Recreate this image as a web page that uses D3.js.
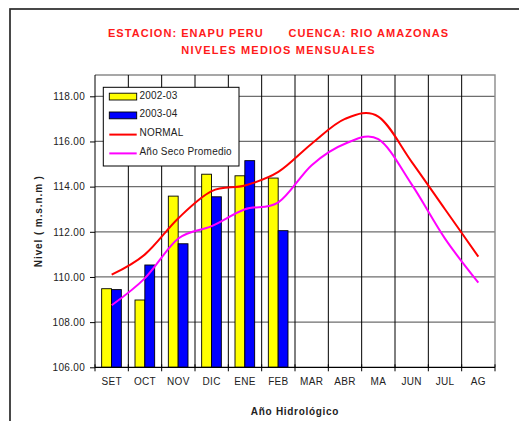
<!DOCTYPE html>
<html>
<head>
<meta charset="utf-8">
<script src="https://cdn.jsdelivr.net/npm/d3@7"></script>
<style>
  html, body { margin: 0; padding: 0; background: #fff; }
  svg { display: block; font-family: "Liberation Sans", Arial, sans-serif; }
</style>
</head>
<body>
<svg id="chart" width="519" height="421"></svg>
<script>
// Hydrological-year months (September to August)
const months = ["SET", "OCT", "NOV", "DIC", "ENE", "FEB", "MAR", "ABR", "MA", "JUN", "JUL", "AG"];

// Monthly mean levels (m.s.n.m) for the observed seasons
const levels2002_03 = [109.48, 108.98, 113.58, 114.55, 114.48, 114.38];
const levels2003_04 = [109.44, 110.53, 111.47, 113.55, 115.15, 112.05];

// Reference curves
const normalLevels = [110.1, 111.0, 112.6, 113.8, 114.05, 114.65, 115.9, 117.0, 117.1, 115.1, 113.0, 110.9];
const drySeasonLevels = [108.75, 109.95, 111.7, 112.25, 113.0, 113.3, 114.95, 115.9, 116.1, 114.1, 111.7, 109.75];

const yTicks = [106, 108, 110, 112, 114, 116, 118];
const barSeries = ["2002-03", "2003-04"];
const legendLabels = ["2002-03", "2003-04", "NORMAL", "Año Seco Promedio"];

const colors = {
  "2002-03": "#ffff00",
  "2003-04": "#0000ff",
  "NORMAL": "#ff0000",
  "Año Seco Promedio": "#ff00ff"
};

const svg = d3.select("#chart");

// Outer chart frame
svg.append("rect")
  .attr("x", 10).attr("y", 9)
  .attr("width", 530).attr("height", 440)
  .attr("fill", "#fff")
  .attr("stroke", "#2a2a2a")
  .attr("stroke-width", 1.7);

// Plot area
const plot = { left: 95, right: 495, top: 75, bottom: 367.3 };

const x = d3.scaleBand().domain(months).range([plot.left, plot.right]).padding(0);
const xSub = d3.scaleBand().domain(barSeries)
  .range([x.bandwidth() * 0.2, x.bandwidth() * 0.79]).padding(0);
const y = d3.scaleLinear().domain([106, 118]).range([plot.bottom, 96.3]);

// Horizontal gridlines
svg.append("g").selectAll("line")
  .data(yTicks.filter(v => v > 106))
  .join("line")
  .attr("x1", plot.left).attr("x2", plot.right)
  .attr("y1", d => y(d)).attr("y2", d => y(d))
  .attr("stroke", "#6e6e6e").attr("stroke-width", 1.2);

// Top and right border of plot area
svg.append("path")
  .attr("d", `M${plot.left},${plot.top}H${plot.right}V${plot.bottom}`)
  .attr("fill", "none")
  .attr("stroke", "#8a8a8a").attr("stroke-width", 1.4);

// Vertical gridlines at category boundaries
svg.append("g").selectAll("line")
  .data(months.slice(1))
  .join("line")
  .attr("x1", d => x(d)).attr("x2", d => x(d))
  .attr("y1", plot.top).attr("y2", plot.bottom)
  .attr("stroke", "#000").attr("stroke-width", 1);

// Bars
const barData = [];
levels2002_03.forEach((v, i) => barData.push({ m: months[i], s: "2002-03", v }));
levels2003_04.forEach((v, i) => barData.push({ m: months[i], s: "2003-04", v }));

svg.append("g").selectAll("rect")
  .data(barData)
  .join("rect")
  .attr("x", d => x(d.m) + xSub(d.s))
  .attr("width", xSub.bandwidth())
  .attr("y", d => y(d.v))
  .attr("height", d => y(106) - y(d.v))
  .attr("fill", d => colors[d.s])
  .attr("stroke", "#000").attr("stroke-width", 0.9);

// Smoothed reference lines
const line = d3.line()
  .x((d, i) => x(months[i]) + x.bandwidth() / 2)
  .y(d => y(d))
  .curve(d3.curveCardinal.tension(0));

svg.append("path").datum(drySeasonLevels)
  .attr("d", line).attr("fill", "none")
  .attr("stroke", colors["Año Seco Promedio"]).attr("stroke-width", 2);

svg.append("path").datum(normalLevels)
  .attr("d", line).attr("fill", "none")
  .attr("stroke", colors["NORMAL"]).attr("stroke-width", 2);

// Y axis
const yAxis = svg.append("g")
  .attr("transform", `translate(${plot.left},0)`)
  .call(d3.axisLeft(y).tickValues(yTicks).tickFormat(d3.format(".2f")).tickSize(5).tickPadding(5));
yAxis.select(".domain").attr("stroke", "#000").attr("d", `M0,${plot.bottom}V${plot.top}`);
yAxis.selectAll(".tick line").attr("stroke", "#000");
yAxis.selectAll("text")
  .attr("font-size", 10).attr("fill", "#222").attr("font-family", "Liberation Sans, Arial, sans-serif")
  .style("letter-spacing", "0.3px");

// X axis: ticks on category boundaries, labels centered
const xAxis = svg.append("g").attr("transform", `translate(0,${plot.bottom})`);
xAxis.append("line")
  .attr("x1", plot.left).attr("x2", plot.right)
  .attr("y1", 0).attr("y2", 0)
  .attr("stroke", "#000").attr("stroke-width", 1.2);
xAxis.selectAll("line.tk")
  .data(months.concat(["end"]))
  .join("line").attr("class", "tk")
  .attr("x1", d => d === "end" ? plot.right : x(d))
  .attr("x2", d => d === "end" ? plot.right : x(d))
  .attr("y1", -3).attr("y2", 4)
  .attr("stroke", "#000");
xAxis.selectAll("text")
  .data(months)
  .join("text")
  .attr("x", d => x(d) + x.bandwidth() / 2)
  .attr("y", 17.5)
  .attr("text-anchor", "middle")
  .attr("font-size", 10).attr("fill", "#222")
  .style("letter-spacing", "0.3px")
  .text(d => d);

// Titles
const title = svg.append("g").attr("fill", "#ff1a1a").attr("font-weight", "bold")
  .attr("font-size", 11).attr("text-anchor", "middle")
  .style("letter-spacing", "1.05px");
title.append("text").attr("x", 278.5).attr("y", 37)
  .style("white-space", "pre")
  .text("ESTACION: ENAPU PERU      CUENCA: RIO AMAZONAS");
title.append("text").attr("x", 278.5).attr("y", 54)
  .style("letter-spacing", "1.2px")
  .text("NIVELES MEDIOS MENSUALES");

// Axis titles
svg.append("text")
  .attr("x", (plot.left + plot.right) / 2).attr("y", 415)
  .attr("text-anchor", "middle").attr("font-weight", "bold").attr("font-size", 10)
  .attr("fill", "#222").style("letter-spacing", "0.7px")
  .text("Año Hidrológico");

svg.append("text")
  .attr("transform", `translate(42,${(plot.top + plot.bottom) / 2}) rotate(-90)`)
  .attr("text-anchor", "middle").attr("font-weight", "bold").attr("font-size", 10)
  .attr("fill", "#222").style("letter-spacing", "0.9px")
  .text("Nivel ( m.s.n.m )");

// Legend
const legend = svg.append("g");
legend.append("rect")
  .attr("x", 103.3).attr("y", 87.3).attr("width", 135.7).attr("height", 78.7)
  .attr("fill", "#fff").attr("stroke", "#000").attr("stroke-width", 1);

const rowY = i => 96.6 + i * 18.8;
const items = legend.selectAll("g.item")
  .data(legendLabels)
  .join("g").attr("class", "item");

items.filter((d, i) => i < 2).append("rect")
  .attr("x", 109.3).attr("width", 27.4)
  .attr("y", (d, i) => rowY(i) - 3.4).attr("height", 6.8)
  .attr("fill", d => colors[d]).attr("stroke", "#000").attr("stroke-width", 0.9);

items.filter((d, i) => i >= 2).append("line")
  .attr("x1", 109.3).attr("x2", 136.7)
  .attr("y1", (d, i) => rowY(i + 2) + 0.4).attr("y2", (d, i) => rowY(i + 2) + 0.4)
  .attr("stroke", d => colors[d]).attr("stroke-width", 2);

items.append("text")
  .attr("x", 139.5)
  .attr("y", (d, i) => rowY(i) + 2)
  .attr("font-size", 10).attr("fill", "#222")
  .style("letter-spacing", "0.2px")
  .text(d => d);
</script>
</body>
</html>
